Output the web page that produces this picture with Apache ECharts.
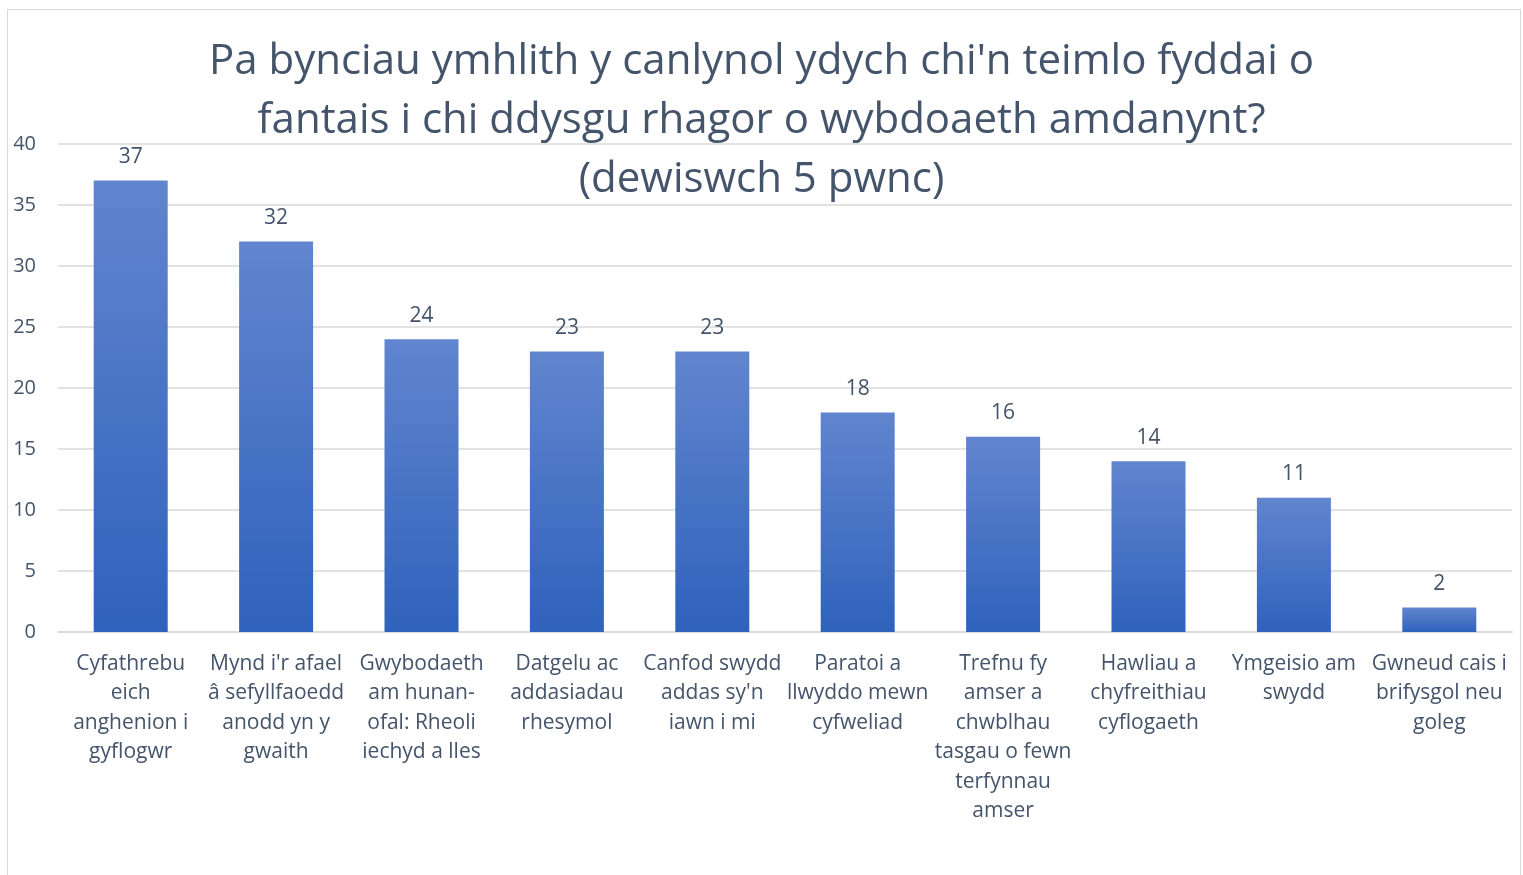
<!DOCTYPE html>
<html>
<head>
<meta charset="utf-8">
<script src="https://cdn.jsdelivr.net/npm/echarts@6/dist/echarts.min.js"></script>
<style>
    html, body { margin: 0; padding: 0; background: #fff; }
    #main { position: absolute; left: 0; top: 0; width: 1523px; height: 875px; }
    #frame { position: absolute; left: 7px; top: 9px; width: 1512px; height: 900px;
             border: 1.5px solid #D9D9D9; pointer-events: none; }
</style>
</head>
<body>
<div id="main"></div>
<div id="frame"></div>
<script>
var titleText = "Pa bynciau ymhlith y canlynol ydych chi'n teimlo fyddai o\nfantais i chi ddysgu rhagor o wybdoaeth amdanynt?\n(dewiswch 5 pwnc)";

// categories (line breaks as in the picture)
var categories = [
    'Cyfathrebu\neich\nanghenion i\ngyflogwr',
    'Mynd i\'r afael\nâ sefyllfaoedd\nanodd yn y\ngwaith',
    'Gwybodaeth\nam hunan-\nofal: Rheoli\niechyd a lles',
    'Datgelu ac\naddasiadau\nrhesymol',
    'Canfod swydd\naddas sy\'n\niawn i mi',
    'Paratoi a\nllwyddo mewn\ncyfweliad',
    'Trefnu fy\namser a\nchwblhau\ntasgau o fewn\nterfynnau\namser',
    'Hawliau a\nchyfreithiau\ncyflogaeth',
    'Ymgeisio am\nswydd',
    'Gwneud cais i\nbrifysgol neu\ngoleg'
];
var values = [37, 32, 24, 23, 23, 18, 16, 14, 11, 2];

var textColor = '#44546A';
var fontFamily = '"Open Sans", "Noto Sans", sans-serif';

var myChart = echarts.init(document.getElementById('main'));

var option = {
    animation: false,
    title: {
        text: titleText,
        left: 'center',
        top: 28,
        textStyle: {
            color: textColor,
            fontSize: 42,
            fontWeight: 'normal',
            lineHeight: 59,
            fontFamily: fontFamily
        }
    },
    grid: {
        left: 58,
        right: 11,
        top: 144,
        bottom: 243,
        containLabel: false
    },
    xAxis: {
        type: 'category',
        data: categories,
        axisTick: {show: false},
        axisLine: {lineStyle: {color: '#D9D9D9', width: 1.5}},
        axisLabel: {
            interval: 0,
            margin: 17,
            color: textColor,
            fontSize: 21,
            lineHeight: 29.5,
            fontFamily: fontFamily
        }
    },
    yAxis: {
        type: 'value',
        min: 0,
        max: 40,
        interval: 5,
        axisLine: {show: false},
        axisTick: {show: false},
        splitLine: {lineStyle: {color: '#D9D9D9', width: 1.5}},
        axisLabel: {
            margin: 22,
            color: textColor,
            fontSize: 20,
            fontFamily: fontFamily
        }
    },
    series: [
        {
            type: 'bar',
            data: values,
            barWidth: 74,
            itemStyle: {
                color: new echarts.graphic.LinearGradient(0, 0, 0, 1, [
                    {offset: 0, color: '#6185CE'},
                    {offset: 1, color: '#2F62BC'}
                ])
            },
            label: {
                show: true,
                position: 'top',
                distance: 13,
                color: textColor,
                fontSize: 21,
                fontFamily: fontFamily
            }
        }
    ]
};

myChart.setOption(option);
</script>
</body>
</html>
